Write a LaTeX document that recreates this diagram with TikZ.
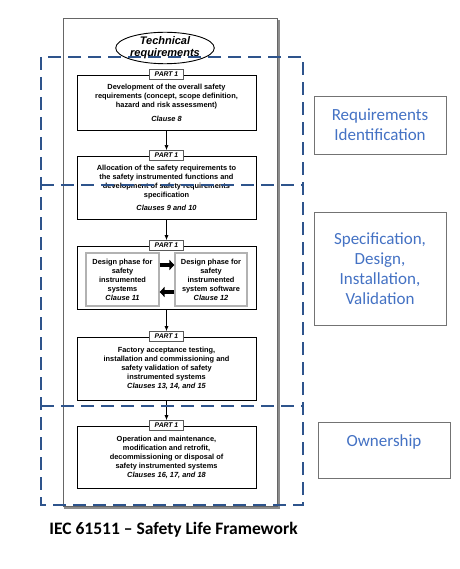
\documentclass[tikz,border=0pt]{standalone}
\usepackage{fontspec}
\setmainfont{Liberation Sans}
\newfontfamily\calibri{Carlito}
\usetikzlibrary{arrows.meta,shapes.geometric}
\definecolor{dashblue}{RGB}{46,84,140}
\definecolor{labelblue}{RGB}{68,114,196}

\begin{document}
\begin{tikzpicture}[x=1pt,y=-1pt]
        \tikzstyle{every node}=[font=\fontsize{7.4}{9}\selectfont\bfseries]
        \tikzstyle{stagebox}=[draw=black, line width=0.8pt, fill=white, minimum width=179pt, align=center, inner sep=2pt]
        \tikzstyle{parttag}=[draw=black!65, line width=0.9pt, fill=white, minimum width=34pt, minimum height=10pt, inner sep=1pt, font=\fontsize{6.8}{7}\selectfont\bfseries\itshape]
        \tikzstyle{designbox}=[draw=black!30, line width=1.2pt, fill=white, minimum width=73pt, minimum height=53pt, align=center, inner sep=1pt]
        \tikzstyle{flowarrow}=[line width=0.6pt, -{Latex[length=5pt,width=4pt]}]
        \tikzstyle{fatarrow}=[line width=4pt, -{Triangle[length=5pt,width=10pt]}]
        \tikzstyle{phase}=[draw=dashblue, line width=2.6pt, dash pattern=on 13pt off 7pt]
        \tikzstyle{phaselabel}=[draw=black!55, line width=0.8pt, fill=white, text=labelblue, minimum width=132pt, align=center, font=\calibri\fontsize{17}{20}\selectfont]

        \useasboundingbox (0,0) rectangle (459,569);
        \fill[white] (0,0) rectangle (459,569);

        % outer frame with shadow
        \draw[black!45, line width=2pt] (65,21) rectangle (279,508);
        \draw[black!60, line width=1pt, fill=white] (63,19) rectangle (277,506);

        \node[ellipse, draw, line width=0.9pt, minimum width=90pt, minimum height=29pt, inner sep=0pt, align=center,
              font=\fontsize{11}{12}\selectfont\bfseries\itshape] (techreq) at (165,48) {Technical\\requirements};

        % stages
        \node[stagebox, minimum height=55pt] (overall) at (166.5,102.5)
            {Development of the overall safety\\requirements (concept, scope definition,\\hazard and risk assessment)\\[5pt]{\itshape Clause 8}};
        \node[parttag] (tagoverall) at (overall.north) {PART 1};

        \node[stagebox, minimum height=63pt] (allocation) at (166.5,187.5)
            {Allocation of the safety requirements to\\the safety instrumented functions and\\development of safety requirements\\specification\\[4pt]{\itshape Clauses 9 and 10}};
        \node[parttag] (tagallocation) at (allocation.north) {PART 1};

        \node[stagebox, minimum height=63pt] (design) at (166.5,277.5) {};
        \node[parttag] (tagdesign) at (design.north) {PART 1};
        \node[designbox] (sisdesign) at (122.5,279.5)
            {Design phase for\\safety\\instrumented\\systems\\{\itshape Clause 11}};
        \node[designbox, minimum width=72pt] (swdesign) at (211,279.5)
            {Design phase for\\safety\\instrumented\\system software\\{\itshape Clause 12}};
        \draw[fatarrow] ([yshift=14.5pt]sisdesign.east) -- ([yshift=14.5pt]swdesign.west);
        \draw[fatarrow] ([yshift=-12.5pt]swdesign.west) -- ([yshift=-12.5pt]sisdesign.east);

        \node[stagebox, minimum height=63pt] (validation) at (166.5,368.5)
            {Factory acceptance testing,\\installation and commissioning and\\safety validation of safety\\instrumented systems\\{\itshape Clauses 13, 14, and 15}};
        \node[parttag] (tagvalidation) at (validation.north) {PART 1};

        \node[stagebox, minimum height=62pt] (operation) at (166.5,457)
            {Operation and maintenance,\\modification and retrofit,\\decommissioning or disposal of\\safety instrumented systems\\{\itshape Clauses 16, 17, and 18}};
        \node[parttag] (tagoperation) at (operation.north) {PART 1};

        \draw[flowarrow] (overall.south) -- (tagallocation.north);
        \draw[flowarrow] (allocation.south) -- (tagdesign.north);
        \draw[flowarrow] (design.south) -- (tagvalidation.north);
        \draw[flowarrow] (validation.south) -- (tagoperation.north);

        % life cycle phases
        \draw[phase] (41,57) rectangle (303,505);
        \draw[phase] (41,185) -- (303,185);
        \draw[phase] (41,406) -- (303,406);

        \node[phaselabel, minimum height=58pt] (reqid) at (380,125) {Requirements\\Identification};
        \node[phaselabel, minimum height=113pt] (specdesign) at (380,268.5) {Specification,\\Design,\\Installation,\\Validation};
        \node[phaselabel, minimum height=56pt, text depth=19pt] (ownership) at (384,450) {Ownership};

        \node[font=\calibri\bfseries\fontsize{17.5}{20}\selectfont] (caption) at (173.5,530) {IEC 61511 – Safety Life Framework};
\end{tikzpicture}
\end{document}
